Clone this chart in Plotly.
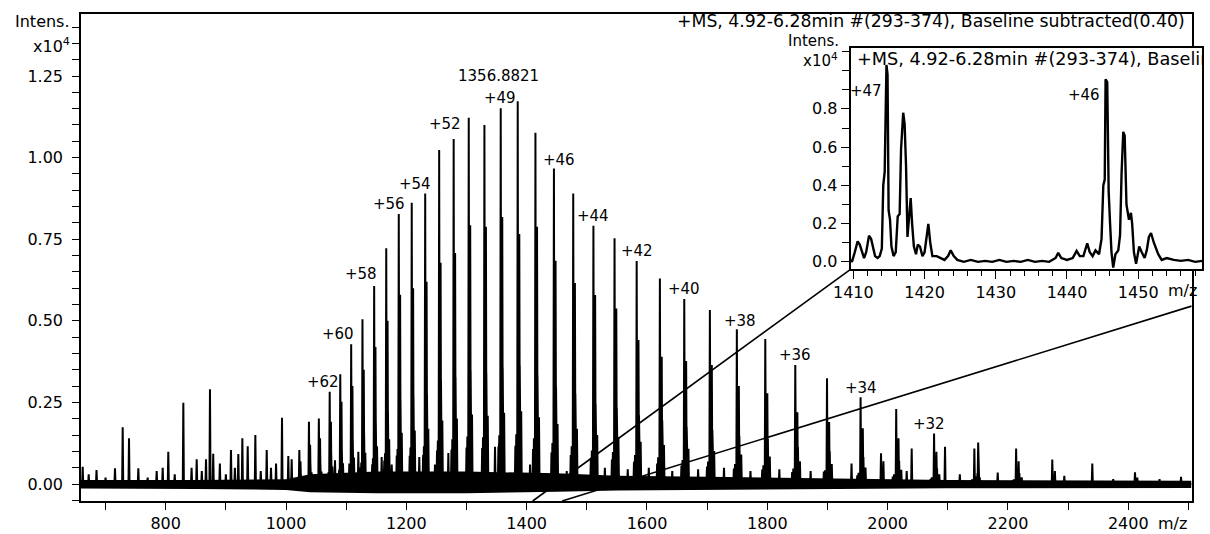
import plotly.graph_objects as go

# ---------------- DATA ----------------
# main charge-state series (m/z, intensity in units of 1e4)
CHARGE = [65, 64, 63, 62, 61, 60, 59, 58, 57, 56, 55, 54, 53, 52, 51, 50, 49, 48,
          47, 46, 45, 44, 43, 42, 41, 40, 39, 38, 37, 36, 35, 34, 33, 32, 31, 30]
MAIN_MZ = [1022.12, 1038.10, 1054.56, 1072.59, 1090.16, 1108.30, 1127.07, 1146.49,
           1166.59, 1187.40, 1208.97, 1231.34, 1254.56, 1278.66, 1303.71, 1329.77,
           1356.88, 1385.13, 1414.58, 1445.31, 1477.40, 1510.96, 1546.07, 1582.86,
           1621.44, 1661.95, 1704.54, 1749.37, 1796.63, 1846.50, 1899.23, 1955.06,
           2014.27, 2077.19, 2144.16, 2213.60]
MAIN_INT = [0.104, 0.191, 0.201, 0.283, 0.336, 0.428, 0.505, 0.607,
            0.722, 0.827, 0.862, 0.890, 1.023, 1.057, 1.122, 1.100,
            1.151, 1.173, 1.076, 0.967, 0.890, 0.791, 0.753, 0.683,
            0.630, 0.567, 0.533, 0.474, 0.444, 0.365, 0.324, 0.266,
            0.230, 0.155, 0.109, 0.109]
# adduct peak next to every charge state
ADDUCT_MZ = [1024.04, 1040.05, 1056.54, 1074.61, 1092.21, 1110.38, 1129.19, 1148.65,
             1168.78, 1189.63, 1211.24, 1233.65, 1256.92, 1281.06, 1306.16, 1332.27,
             1359.43, 1387.73, 1417.24, 1448.03, 1480.18, 1513.80, 1548.98, 1585.84,
             1624.49, 1665.08, 1707.75, 1752.66, 1800.01, 1849.97, 1902.80, 1958.74,
             2018.06, 2081.10, 2150.50, 2217.77]
ADDUCT_INT = [0.070, 0.120, 0.140, 0.191, 0.252, 0.300, 0.350, 0.420,
              0.500, 0.580, 0.600, 0.620, 0.678, 0.708, 0.793, 0.788,
              0.818, 0.766, 0.788, 0.684, 0.616, 0.579, 0.538, 0.441,
              0.390, 0.377, 0.365, 0.300, 0.278, 0.220, 0.190, 0.171,
              0.140, 0.099, 0.127, 0.070]
# small satellite peaks around each charge state (pattern, +47 state)
SAT_OFFSET_Z47 = [-4.0, -2.5, 1.6, 3.4, 5.9]
SAT_REL = [0.10, 0.13, 0.22, 0.31, 0.19]
# other peaks of the spectrum
OTHER_MZ = [662, 672, 685, 700, 715.7, 728.5, 739, 754.5, 770, 785, 795, 804.3, 815,
            829.3, 843, 851.5, 860, 867, 873.6, 879, 890, 900, 908.5, 915, 920.7,
            927.4, 936.3, 949, 958, 967.9, 975, 983.4, 993.3, 1003.8, 1009.4,
            1081.4, 1105.2, 1120.2, 1159, 1175.7, 1184, 1206, 1221.5, 1229.4, 1247.6,
            1269.8, 1300.3, 1347.4, 1354, 1405.6, 1466.6, 1530, 1568, 1603, 1642,
            1685, 1728, 1772, 1820, 1872, 1894, 1940, 1989, 1993, 2031.7, 2040,
            2095.4, 2120, 2183, 2273.7, 2278, 2293.7, 2340.2, 2375, 2411.2, 2415,
            2452, 2487.7]
OTHER_INT = [0.053, 0.030, 0.043, 0.020, 0.048, 0.174, 0.140, 0.048, 0.020, 0.040,
             0.050, 0.099, 0.030, 0.249, 0.050, 0.076, 0.040, 0.076, 0.290, 0.093,
             0.063, 0.030, 0.104, 0.050, 0.092, 0.140, 0.116, 0.150, 0.040, 0.104,
             0.050, 0.063, 0.203, 0.086, 0.076,
             0.073, 0.063, 0.099, 0.083, 0.060, 0.087, 0.080, 0.083, 0.100, 0.060,
             0.095, 0.063, 0.114, 0.125, 0.060, 0.040, 0.050, 0.045, 0.050, 0.040,
             0.045, 0.050, 0.040, 0.045, 0.040, 0.038, 0.063, 0.094, 0.070, 0.040,
             0.109, 0.114, 0.030, 0.035, 0.075, 0.040, 0.025, 0.063, 0.015, 0.036,
             0.020, 0.015, 0.022]
# baseline noise band (upper / lower envelope)
NOISE_MZ = [659, 850, 1000, 1040, 1150, 1300, 1450, 1550, 1700, 1900, 2100, 2505]
NOISE_HI = [0.012, 0.012, 0.015, 0.030, 0.038, 0.038, 0.033, 0.025, 0.022, 0.018, 0.012, 0.010]
NOISE_LO = [-0.014, -0.015, -0.018, -0.025, -0.028, -0.028, -0.024, -0.020, -0.018,
            -0.015, -0.013, -0.012]

# inset: zoomed profile 1409.6 - 1459 m/z
INSET_MZ = [1409.6, 1409.8, 1410.2, 1410.6, 1410.9, 1411.2, 1411.5, 1411.8, 1412.2, 1412.5,
            1412.8, 1413.05, 1413.4, 1413.7, 1414.0, 1414.2, 1414.4, 1414.65, 1414.8, 1414.95,
            1415.15, 1415.35, 1415.65, 1415.95, 1416.23, 1416.5, 1416.7, 1417.0, 1417.2,
            1417.4, 1417.6, 1417.85, 1418.05, 1418.25, 1418.5, 1418.8, 1419.05, 1419.36,
            1419.7, 1420.0, 1420.3, 1420.53, 1420.8, 1421.1, 1421.7, 1422.2, 1422.8, 1423.3,
            1423.67, 1424.1, 1424.6, 1425.5, 1426.5, 1427.5, 1428.5, 1429.5, 1430.5, 1431.5,
            1432.5, 1433.5, 1434.5, 1435.5, 1436.5, 1437.5, 1438.4, 1438.77, 1439.2, 1440.0,
            1440.8, 1441.35, 1441.8, 1442.3, 1442.84, 1443.2, 1443.6, 1444.0, 1444.5, 1444.85,
            1445.1, 1445.3, 1445.42, 1445.65, 1445.85, 1446.05, 1446.25, 1446.49, 1446.8,
            1447.2, 1447.45, 1447.67, 1447.9, 1448.1, 1448.35, 1448.7, 1448.98, 1449.15,
            1449.4, 1449.7, 1450.14, 1450.5, 1450.9, 1451.2, 1451.5, 1451.8, 1452.2, 1452.81,
            1453.3, 1454.0, 1455.0, 1456.0, 1457.0, 1458.0, 1459.0]
INSET_INT = [0.010, 0.000, 0.050, 0.107, 0.090, 0.060, 0.020, 0.050, 0.137, 0.120,
             0.060, 0.030, 0.020, 0.030, 0.070, 0.400, 0.470, 1.030, 0.980, 0.270,
             0.220, 0.080, 0.030, 0.050, 0.238, 0.250, 0.590, 0.780, 0.720,
             0.500, 0.130, 0.250, 0.334, 0.200, 0.080, 0.040, 0.090, 0.080,
             0.030, 0.050, 0.150, 0.198, 0.100, 0.030, 0.030, 0.020, 0.010, 0.030,
             0.060, 0.030, 0.010, 0.000, 0.010, 0.000, 0.005, 0.000, 0.010, 0.000,
             0.005, 0.000, 0.010, 0.000, 0.005, 0.000, 0.020, 0.047, 0.020, 0.010,
             0.020, 0.057, 0.030, 0.030, 0.097, 0.050, 0.030, 0.060, 0.040, 0.120,
             0.400, 0.430, 0.955, 0.940, 0.370, 0.200, 0.050, -0.030, 0.040,
             0.060, 0.140, 0.470, 0.680, 0.660, 0.300, 0.220, 0.256, 0.200,
             0.050, -0.010, 0.080, 0.050, 0.020, 0.060, 0.130, 0.151, 0.100, 0.040,
             0.010, 0.020, 0.010, 0.005, 0.010, 0.000, 0.005]

LABELED_CHARGES = [62, 60, 58, 56, 54, 52, 49, 46, 44, 42, 40, 38, 36, 34, 32]
MAIN_X_TICKS = [800, 1000, 1200, 1400, 1600, 1800, 2000, 2200, 2400]
MAIN_Y_TICKS = [0.0, 0.25, 0.5, 0.75, 1.0, 1.25]
MAIN_Y_TEXT = ["0.00", "0.25", "0.50", "0.75", "1.00", "1.25"]
INSET_X_TICKS = [1410, 1420, 1430, 1440, 1450]
INSET_Y_TICKS = [0.0, 0.2, 0.4, 0.6, 0.8]
INSET_Y_TEXT = ["0.0", "0.2", "0.4", "0.6", "0.8"]
TITLE = "+MS, 4.92-6.28min #(293-374), Baseline subtracted(0.40)"
BASE_PEAK_LABEL = "1356.8821"
Y_UNIT_TOP = "Intens."
Y_UNIT_SCALE = "x10<sup>4</sup>"

# ---------------- LAYOUT GEOMETRY ----------------
W, H = 1210, 534
FONT = "DejaVu Sans"
MAIN_PX = (81, 1191.5, 14, 501)      # left, right, top, bottom (pixels)
INSET_PX = (850.5, 1202.3, 47.5, 269.3)
MAIN_XR = [659.2, 2505.1]
MAIN_YR = [-0.052, 1.44]
INSET_XR = [1409.6, 1459.0]
INSET_YR = [-0.039, 1.121]


def dom_x(a, b):
    return [a / W, b / W]


def dom_y(top, bottom):
    return [1 - bottom / H, 1 - top / H]


def px_x(p):
    return p / W


def px_y(p):
    return 1 - p / H


def main_to_paper(mz, h):
    l, r, t, b = MAIN_PX
    px = l + (mz - MAIN_XR[0]) / (MAIN_XR[1] - MAIN_XR[0]) * (r - l)
    py = b - (h - MAIN_YR[0]) / (MAIN_YR[1] - MAIN_YR[0]) * (b - t)
    return px / W, 1 - py / H


# ---------------- build main spectrum ----------------
HALF_W = 0.9
peaks = []
for z, mz, h in zip(CHARGE, MAIN_MZ, MAIN_INT):
    peaks.append((mz, h))
    for off, rel in zip(SAT_OFFSET_Z47, SAT_REL):
        peaks.append((mz + off * 47.0 / z, h * rel))
peaks += list(zip(ADDUCT_MZ, ADDUCT_INT))
peaks += list(zip(OTHER_MZ, OTHER_INT))
peaks.sort()
xs, ys = [MAIN_XR[0]], [0.0]
for mz, h in peaks:
    xs += [mz - HALF_W, mz, mz + HALF_W]
    ys += [0.0, h, 0.0]
xs.append(MAIN_XR[1])
ys.append(0.0)

fig = go.Figure()
fig.add_trace(go.Scatter(
    x=NOISE_MZ + NOISE_MZ[::-1], y=NOISE_HI + NOISE_LO[::-1],
    fill="toself", fillcolor="black", line=dict(width=0), mode="lines",
    hoverinfo="skip", showlegend=False, xaxis="x", yaxis="y"))
fig.add_trace(go.Scatter(
    x=xs, y=ys, mode="lines", line=dict(color="black", width=2.0),
    showlegend=False, xaxis="x", yaxis="y"))

# inset
fig.add_trace(go.Scatter(
    x=INSET_MZ, y=INSET_INT, mode="lines", line=dict(color="black", width=2.4),
    showlegend=False, xaxis="x2", yaxis="y2"))
fig.add_trace(go.Scatter(
    x=[1410.5], y=[1.055], mode="text", text=[TITLE], textposition="middle right",
    textfont=dict(family=FONT, size=17.7, color="black"), cliponaxis=True,
    showlegend=False, hoverinfo="skip", xaxis="x2", yaxis="y2"))

axis_common = dict(showline=True, linecolor="black", linewidth=1.6, mirror=True,
                   ticks="outside", tickcolor="black", tickwidth=1.4,
                   showgrid=False, zeroline=False, automargin=False,
                   tickfont=dict(family=FONT, size=16, color="black"))

fig.update_layout(
    width=W, height=H, margin=dict(l=0, r=0, t=0, b=0, autoexpand=False),
    paper_bgcolor="white", plot_bgcolor="white", showlegend=False,
    xaxis=dict(domain=dom_x(MAIN_PX[0], MAIN_PX[1]), range=MAIN_XR, anchor="y",
               tickmode="array", tickvals=MAIN_X_TICKS, ticklen=7,
               minor=dict(tickmode="linear", tick0=0, dtick=100, ticklen=7,
                          ticks="outside", tickcolor="black", tickwidth=1.4),
               **axis_common),
    yaxis=dict(domain=dom_y(MAIN_PX[2], MAIN_PX[3]), range=MAIN_YR, anchor="x",
               tickmode="array", tickvals=MAIN_Y_TICKS, ticktext=MAIN_Y_TEXT, ticklen=7,
               ticklabelstandoff=6,
               minor=dict(tickmode="linear", tick0=0, dtick=0.05, ticklen=7,
                          ticks="outside", tickcolor="black", tickwidth=1.4),
               **axis_common),
    xaxis2=dict(domain=dom_x(INSET_PX[0], INSET_PX[1]), range=INSET_XR, anchor="y2",
                tickmode="array", tickvals=INSET_X_TICKS, ticklen=8,
                minor=dict(tickmode="linear", tick0=0, dtick=2, ticklen=5,
                           ticks="outside", tickcolor="black", tickwidth=1.4),
                **axis_common),
    yaxis2=dict(domain=dom_y(INSET_PX[2], INSET_PX[3]), range=INSET_YR, anchor="x2",
                tickmode="array", tickvals=INSET_Y_TICKS, ticktext=INSET_Y_TEXT, ticklen=8,
                minor=dict(tickmode="linear", tick0=0, dtick=0.1, ticklen=7,
                           ticks="outside", tickcolor="black", tickwidth=1.4),
                **axis_common),
)

# zoom connector lines
x0a, y0a = main_to_paper(INSET_XR[0] + 0.4, MAIN_YR[0])
x0b, y0b = main_to_paper(INSET_XR[1], MAIN_YR[0])
x1b, y1b = main_to_paper(MAIN_XR[1], 0.545)
fig.add_shape(type="line", xref="paper", yref="paper", x0=x0a, y0=y0a,
              x1=px_x(INSET_PX[0]), y1=px_y(INSET_PX[3]),
              line=dict(color="black", width=1.6))
fig.add_shape(type="line", xref="paper", yref="paper", x0=x0b, y0=y0b,
              x1=x1b, y1=y1b, line=dict(color="black", width=1.6))

# charge state labels
LABEL_SHIFT = {62: (-7, -1), 60: (-13, -1), 58: (-13, 1), 56: (-10, -1), 54: (-10, -1),
               52: (-9, 4), 49: (-1, -1), 46: (5, -3), 44: (0, -1), 42: (0, -1),
               40: (0, -1), 38: (3, -3), 36: (0, -1), 34: (0, -2), 32: (-5, -2)}
lab_font = dict(family=FONT, size=15, color="black")
for z in LABELED_CHARGES:
    i = CHARGE.index(z)
    dx, dy = LABEL_SHIFT[z]
    fig.add_annotation(x=MAIN_MZ[i], y=MAIN_INT[i], xref="x", yref="y", text=f"+{z}",
                       showarrow=False, xanchor="center", yanchor="bottom",
                       xshift=dx, yshift=dy, font=lab_font)
i49 = CHARGE.index(49)
fig.add_annotation(x=MAIN_MZ[i49], y=MAIN_INT[i49], xref="x", yref="y",
                   text=BASE_PEAK_LABEL, showarrow=False, xanchor="center",
                   yanchor="bottom", xshift=-2, yshift=21, font=lab_font)

# inset labels
for z, dx, dy in [(47, -2, -15), (46, -4, -5)]:
    i = CHARGE.index(z)
    j = max(range(len(INSET_MZ)),
            key=lambda k: INSET_INT[k] if abs(INSET_MZ[k] - MAIN_MZ[i]) < 1.0 else -1)
    fig.add_annotation(x=INSET_MZ[j], y=INSET_INT[j], xref="x2", yref="y2",
                       text=f"+{z}", showarrow=False, xanchor="right", yanchor="top",
                       xshift=dx, yshift=dy, font=lab_font)

# y-axis unit labels (main and inset)
for txt, xr, yc, fs in [(Y_UNIT_TOP, 72, 22, 16), (Y_UNIT_SCALE, 72, 46, 16),
                        (Y_UNIT_TOP, 841, 40.5, 15), (Y_UNIT_SCALE, 840, 60, 15)]:
    fig.add_annotation(x=px_x(xr), y=px_y(yc), xref="paper", yref="paper", text=txt,
                       showarrow=False, xanchor="right", yanchor="middle",
                       font=dict(family=FONT, size=fs, color="black"))

# title and axis unit labels
fig.add_annotation(x=px_x(1187), y=px_y(21), xref="paper", yref="paper", text=TITLE,
                   showarrow=False, xanchor="right", yanchor="middle",
                   font=dict(family=FONT, size=17.3, color="black"))
fig.add_annotation(x=px_x(1172), y=px_y(523), xref="paper", yref="paper", text="m/z",
                   showarrow=False, xanchor="center", yanchor="middle",
                   font=dict(family=FONT, size=16, color="black"))
fig.add_annotation(x=px_x(1182), y=px_y(290), xref="paper", yref="paper", text="m/z",
                   showarrow=False, xanchor="center", yanchor="middle",
                   font=dict(family=FONT, size=16, color="black"))

fig.write_html("out.html")
